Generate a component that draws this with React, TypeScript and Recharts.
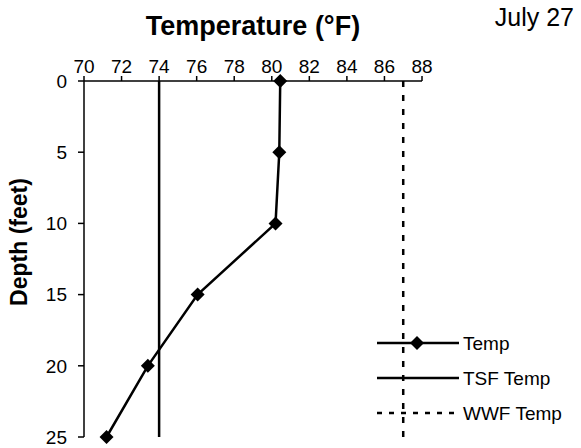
import { ScatterChart, Scatter, XAxis, YAxis, Label, Customized } from "recharts";

const depths = [0, 5, 10, 15, 20, 25];
const tempValues = [80.45, 80.4, 80.2, 76.05, 73.4, 71.2];
const tsfTemp = 74;
const wwfTemp = 87;
const tempTicks = [70, 72, 74, 76, 78, 80, 82, 84, 86, 88];
const depthTicks = [0, 5, 10, 15, 20, 25];
const seriesNames = ["Temp", "TSF Temp", "WWF Temp"];

const tempData = depths.map((d, i) => ({ depth: d, temp: tempValues[i] }));
const tsfData = [0, 25].map((d) => ({ depth: d, temp: tsfTemp }));
const wwfData = [0, 25].map((d) => ({ depth: d, temp: wwfTemp }));

const font = "'Liberation Sans', Arial, sans-serif";

const Diamond = (props: any) => {
  const { cx, cy } = props;
  if (cx == null || cy == null) return <g />;
  const r = 7;
  return (
    <polygon
      points={`${cx},${cy - r} ${cx + r},${cy} ${cx},${cy + r} ${cx - r},${cy}`}
      fill="#000"
    />
  );
};

const NoShape = () => <g />;

// legend drawn by hand so it does not shrink the plot area
const LegendBox = () => {
  const left = 377;
  const top = 343;
  return (
    <g>
      {seriesNames.map((name, i) => {
        const y = top + i * 35;
        return (
          <g key={name}>
            {name === "WWF Temp" ? (
              <line x1={left} y1={y} x2={left + 84} y2={y} stroke="#000" strokeWidth={2.5} strokeDasharray="5 7" />
            ) : (
              <line x1={left} y1={y} x2={left + 82} y2={y} stroke="#000" strokeWidth={2.5} />
            )}
            {name === "Temp" && <Diamond cx={left + 40} cy={y} />}
            <text x={left + 86} y={y} dy="0.36em" fontSize={19} fontFamily={font} fill="#000">
              {name}
            </text>
          </g>
        );
      })}
    </g>
  );
};

export default function App() {
  return (
    <div style={{ position: "absolute", left: 0, top: 0, width: 581, height: 448, background: "#fff", fontFamily: font }}>
      <ScatterChart width={581} height={448} margin={{ top: 0, right: 159, bottom: 11, left: 0 }}>
        <text x={574} y={26} textAnchor="end" fontSize={25} fontFamily={font} fill="#000">
          July 27
        </text>
        <XAxis
          type="number"
          dataKey="temp"
          orientation="top"
          domain={[70, 88]}
          ticks={tempTicks}
          height={81}
          axisLine={{ stroke: "#000", strokeWidth: 1.5 }}
          tickLine={{ stroke: "#000", strokeWidth: 1.5 }}
          tickSize={5}
          tickMargin={3}
          tick={{ fill: "#000", fontSize: 19, fontFamily: font }}
        >
          <Label
            content={(p: any) => {
              const vb = p.viewBox;
              return (
                <text x={vb.x + vb.width / 2} y={35} textAnchor="middle" fontSize={27} fontWeight="bold" fontFamily={font} fill="#000">
                  Temperature (°F)
                </text>
              );
            }}
          />
        </XAxis>
        <YAxis
          type="number"
          dataKey="depth"
          domain={[0, 25]}
          ticks={depthTicks}
          reversed
          width={84}
          axisLine={{ stroke: "#000", strokeWidth: 1.5 }}
          tickLine={{ stroke: "#000", strokeWidth: 1.5 }}
          tickSize={6}
          tickMargin={11}
          tick={{ fill: "#000", fontSize: 19, fontFamily: font }}
        >
          <Label
            content={(p: any) => {
              const vb = p.viewBox;
              const cx = 27;
              const cy = vb.y + vb.height / 2 - 17;
              return (
                <text x={cx} y={cy} transform={`rotate(-90, ${cx}, ${cy})`} textAnchor="middle" fontSize={23} fontWeight="bold" fontFamily={font} fill="#000">
                  Depth (feet)
                </text>
              );
            }}
          />
        </YAxis>
        <Scatter
          name="TSF Temp"
          data={tsfData}
          fill="#000"
          line={{ stroke: "#000", strokeWidth: 2.5 }}
          lineType="joint"
          shape={NoShape}
          isAnimationActive={false}
        />
        <Scatter
          name="WWF Temp"
          data={wwfData}
          fill="#000"
          line={{ stroke: "#000", strokeWidth: 2.5, strokeDasharray: "6 8" }}
          lineType="joint"
          shape={NoShape}
          isAnimationActive={false}
        />
        <Scatter
          name="Temp"
          data={tempData}
          fill="#000"
          line={{ stroke: "#000", strokeWidth: 2.5 }}
          lineType="joint"
          shape={Diamond}
          isAnimationActive={false}
        />
        <Customized component={LegendBox} />
      </ScatterChart>
    </div>
  );
}
